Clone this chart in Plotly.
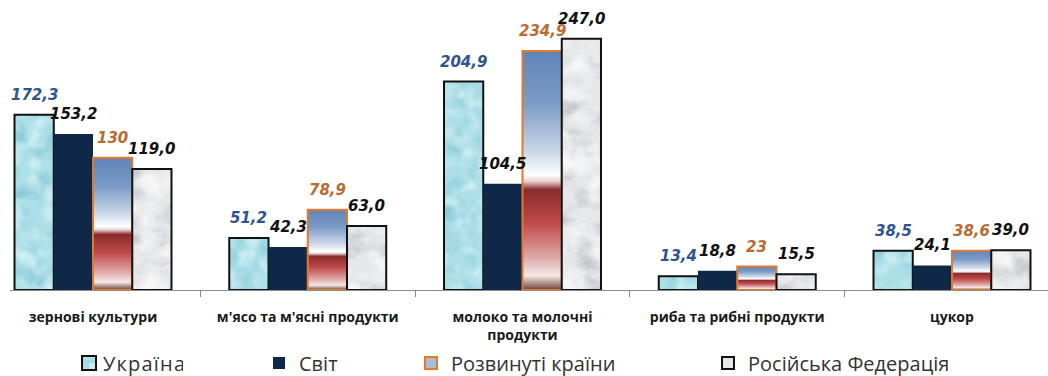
import plotly.graph_objects as go

# Consumption per person, categories and series
categories = [
    "зернові культури",
    "м'ясо та м'ясні продукти",
    "молоко та молочні продукти",
    "риба та рибні продукти",
    "цукор",
]
category_labels = [
    "зернові культури",
    "м'ясо та м'ясні продукти",
    "молоко та молочні<br>продукти",
    "риба та рибні продукти",
    "цукор",
]
series_names = ["Україна", "Світ", "Розвинуті країни", "Російська Федерація"]
ukraine = [172.3, 51.2, 204.9, 13.4, 38.5]
world = [153.2, 42.3, 104.5, 18.8, 24.1]
developed = [130, 78.9, 234.9, 23, 38.6]
russia = [119.0, 63.0, 247.0, 15.5, 39.0]

series_values = [ukraine, world, developed, russia]
fill_colors = ["#B0E2EA", "#0F2847", "#A9BCD6", "#E5E6E8"]
line_colors = ["#111111", "#0F2847", "#E07A2C", "#111111"]
line_widths = [2, 0, 2, 2]
label_colors = ["#2F5590", "#111111", "#BD6A2E", "#111111"]
label_formats = ["{:.1f}", "{:.1f}", "{:g}", "{:.1f}"]
legend_ids = ["legend", "legend2", "legend3", "legend4"]
legend_x_px = [63, 259, 411, 708]

W, H = 1048, 376
axis_left = 10
bargap = 0.269
cat_px = 214.75
first_center = 93
bar_px = cat_px * (1 - bargap) / 4
x0 = -(first_center - axis_left) / cat_px
legend_y_px = 363

fig = go.Figure()
for k, name in enumerate(series_names):
    fig.add_trace(go.Bar(
        x=categories,
        y=series_values[k],
        name=name,
        legend=legend_ids[k],
        marker=dict(color=fill_colors[k],
                    line=dict(color=line_colors[k], width=line_widths[k])),
        hoverinfo="skip",
    ))

# value labels above the bars
annotations = []
for k in range(4):
    for c, v in zip(categories, series_values[k]):
        annotations.append(dict(
            x=c, y=v, xref="x", yref="y",
            text=label_formats[k].format(v).replace(".", ","),
            showarrow=False,
            xshift=(k - 1.5) * bar_px,
            yshift=20,
            yanchor="middle",
            font=dict(family="DejaVu Sans", size=15, color=label_colors[k],
                      weight="bold", style="italic"),
        ))

legend_common = dict(
    orientation="h", yanchor="middle", xanchor="left",
    xref="container", yref="container", y=(H - legend_y_px) / H,
    bgcolor="rgba(0,0,0,0)", borderwidth=0,
    font=dict(family="'Open Sans', sans-serif", size=20, color="#333333"),
)
legend_layout = {}
for k, lid in enumerate(legend_ids):
    legend_layout[lid] = dict(legend_common, x=legend_x_px[k] / W)

fig.update_layout(
    width=W, height=H, autosize=False,
    margin=dict(l=0, r=0, t=0, b=86, pad=0, autoexpand=False),
    paper_bgcolor="white", plot_bgcolor="white",
    barmode="group", bargap=bargap, bargroupgap=0,
    showlegend=True,
    annotations=annotations,
    xaxis=dict(
        type="category",
        domain=[axis_left / W, 1],
        range=[x0, x0 + (W - axis_left) / cat_px],
        tickvals=categories, ticktext=category_labels,
        showline=True, linecolor="#8C8C8C", linewidth=1,
        ticks="outside", tickson="boundaries", ticklen=6, tickcolor="#8C8C8C",
        ticklabelstandoff=14,
        tickfont=dict(family="'Open Sans', sans-serif", size=14,
                      color="#1A1A1A", weight="bold"),
        showgrid=False, zeroline=False, automargin=False,
    ),
    yaxis=dict(range=[0, 285], visible=False, showgrid=False, zeroline=False,
               automargin=False),
    **legend_layout,
)

# SVG textures and gradient fills for the bars and legend swatches
post_js = r"""
var gd = document.getElementById('{plot_id}');
var NS = 'http://www.w3.org/2000/svg';
var DEFS = ''
 + '<filter id="nzUdark" x="0" y="0" width="100%" height="100%" color-interpolation-filters="sRGB">'
 + '<feTurbulence type="fractalNoise" baseFrequency="0.045" numOctaves="3" seed="4"/>'
 + '<feColorMatrix type="matrix" values="0 0 0 0 0.50  0 0 0 0 0.76  0 0 0 0 0.82  -1.8 0 0 0 1.0"/>'
 + '</filter>'
 + '<filter id="nzUlight" x="0" y="0" width="100%" height="100%" color-interpolation-filters="sRGB">'
 + '<feTurbulence type="fractalNoise" baseFrequency="0.06" numOctaves="2" seed="11"/>'
 + '<feColorMatrix type="matrix" values="0 0 0 0 0.88  0 0 0 0 0.97  0 0 0 0 0.98  1.8 0 0 0 -0.8"/>'
 + '</filter>'
 + '<filter id="nzRdark" x="0" y="0" width="100%" height="100%" color-interpolation-filters="sRGB">'
 + '<feTurbulence type="fractalNoise" baseFrequency="0.03 0.05" numOctaves="4" seed="9"/>'
 + '<feColorMatrix type="matrix" values="0 0 0 0 0.66  0 0 0 0 0.67  0 0 0 0 0.70  -1.6 0 0 0 0.88"/>'
 + '</filter>'
 + '<filter id="nzRlight" x="0" y="0" width="100%" height="100%" color-interpolation-filters="sRGB">'
 + '<feTurbulence type="fractalNoise" baseFrequency="0.04" numOctaves="3" seed="21"/>'
 + '<feColorMatrix type="matrix" values="0 0 0 0 1  0 0 0 0 1  0 0 0 0 1  2.0 0 0 0 -0.85"/>'
 + '</filter>'
 + '<pattern id="texUkr" patternUnits="userSpaceOnUse" width="1100" height="400">'
 + '<rect width="1100" height="400" fill="#ACDFE8"/>'
 + '<rect width="1100" height="400" filter="url(#nzUdark)"/>'
 + '<rect width="1100" height="400" filter="url(#nzUlight)"/>'
 + '</pattern>'
 + '<pattern id="texRus" patternUnits="userSpaceOnUse" width="1100" height="400">'
 + '<rect width="1100" height="400" fill="#E6E7E9"/>'
 + '<rect width="1100" height="400" filter="url(#nzRdark)"/>'
 + '<rect width="1100" height="400" filter="url(#nzRlight)"/>'
 + '</pattern>'
 + '<linearGradient id="gradDev" x1="0" y1="0" x2="0" y2="1">'
 + '<stop offset="0" stop-color="#5F84B8"/>'
 + '<stop offset="0.22" stop-color="#7D9CC7"/>'
 + '<stop offset="0.42" stop-color="#CAD7E8"/>'
 + '<stop offset="0.52" stop-color="#FFFFFF"/>'
 + '<stop offset="0.545" stop-color="#E8D2D2"/>'
 + '<stop offset="0.58" stop-color="#8A2C2C"/>'
 + '<stop offset="0.72" stop-color="#C14A4A"/>'
 + '<stop offset="0.86" stop-color="#DDA6A6"/>'
 + '<stop offset="0.94" stop-color="#F5E8E6"/>'
 + '<stop offset="1" stop-color="#6E4036"/>'
 + '</linearGradient>';
var fills = {0: 'url(#texUkr)', 2: 'url(#gradDev)', 3: 'url(#texRus)'};
function tidx(el) {
  var d = el.__data__;
  if (Array.isArray(d)) d = d[0];
  if (Array.isArray(d)) d = d[0];
  return (d && d.trace) ? d.trace.index : -1;
}
function decorate() {
  var svg = gd.querySelector('svg.main-svg');
  if (svg && !document.getElementById('texdefs')) {
    var defs = document.createElementNS(NS, 'defs');
    defs.setAttribute('id', 'texdefs');
    defs.innerHTML = DEFS;
    svg.insertBefore(defs, svg.firstChild);
  }
  gd.querySelectorAll('.barlayer .trace').forEach(function (g) {
    var i = tidx(g);
    if (fills[i]) g.querySelectorAll('path').forEach(function (p) { p.style.fill = fills[i]; });
  });
  gd.querySelectorAll('.legend .traces').forEach(function (g) {
    var i = tidx(g);
    g.querySelectorAll('.legendpoints path').forEach(function (p) {
      if (fills[i]) p.style.fill = fills[i];
      p.setAttribute('d', 'M7,7H-7V-7H7Z');
      p.setAttribute('transform', 'translate(26,0)');
    });
    g.querySelectorAll('text.legendtext').forEach(function (t) {
      t.style.letterSpacing = '1.2px';
    });
  });
}
decorate();
gd.on('plotly_afterplot', decorate);
"""

fig.write_html("out.html", post_script=post_js)
